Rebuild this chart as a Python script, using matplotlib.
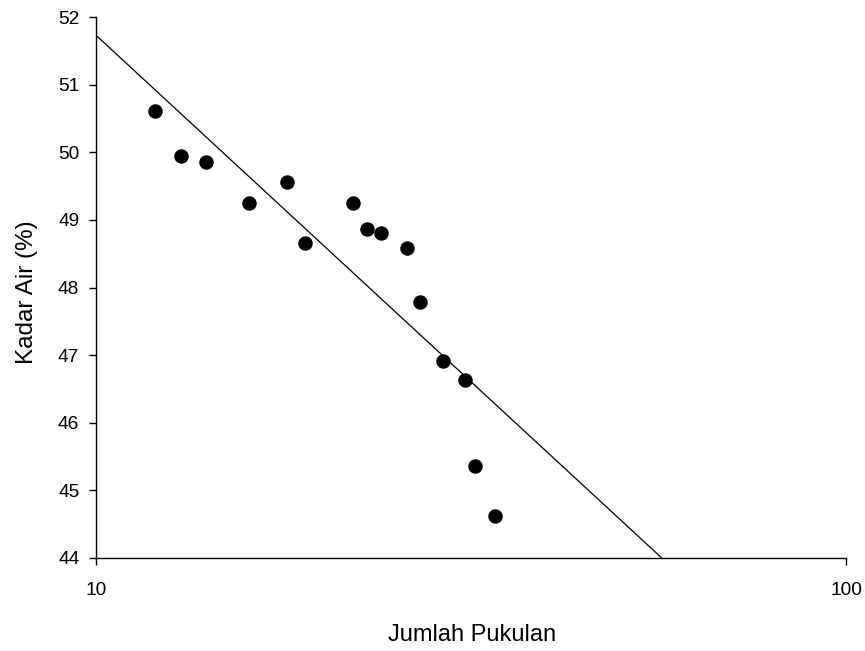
import matplotlib
matplotlib.use("Agg")
import matplotlib.pyplot as plt
from matplotlib.ticker import FixedLocator, NullLocator, FixedFormatter

plt.rcParams['font.family'] = ['Liberation Sans', 'DejaVu Sans']

# Data
blows = [12, 13, 14, 16, 18, 19, 22, 23, 24, 26, 27, 29, 31, 32, 34]
water = [50.61, 49.95, 49.85, 49.25, 49.56, 48.66, 49.25, 48.86, 48.81,
         48.58, 47.78, 46.91, 46.63, 45.36, 44.62]

# Trend line endpoints
line_blows = [10, 56.8]
line_water = [51.73, 44.0]

x_ticks = [10, 100]
x_tick_labels = ["10", "100"]
y_ticks = [44, 45, 46, 47, 48, 49, 50, 51, 52]

W, H = 865, 651
L, R, T, B = 96, 846, 17, 558

fig = plt.figure(figsize=(W / 100, H / 100), dpi=100)
ax = fig.add_axes([L / W, 1 - B / H, (R - L) / W, (B - T) / H])

ax.plot(line_blows, line_water, color='black', linewidth=0.9, solid_capstyle='butt')
ax.plot(blows, water, 'o', color='black', markersize=9.4, linestyle='none')

ax.set_xscale('log')
ax.set_xlim(10, 100)
ax.set_ylim(44, 52)
ax.xaxis.set_major_locator(FixedLocator(x_ticks))
ax.xaxis.set_major_formatter(FixedFormatter(x_tick_labels))
ax.xaxis.set_minor_locator(NullLocator())
ax.set_yticks(y_ticks)
ax.set_yticklabels([str(v) for v in y_ticks])

for s in ['top', 'right']:
    ax.spines[s].set_visible(False)
for s in ['left', 'bottom']:
    ax.spines[s].set_linewidth(1.0)

ax.tick_params(axis='both', direction='out', length=5, width=1.0, labelsize=13.8, colors='black')
ax.tick_params(axis='x', pad=12.5)
ax.tick_params(axis='y', pad=7)

ax.set_xlabel('Jumlah Pukulan', fontsize=17)
ax.set_ylabel('Kadar Air (%)', fontsize=17.5)
ax.xaxis.set_label_coords((472 - L) / (R - L), (B - 624) / (B - T))
ax.yaxis.set_label_coords((38 - L) / (R - L), (B - 292) / (B - T))

fig.savefig('out.png', dpi=100)
